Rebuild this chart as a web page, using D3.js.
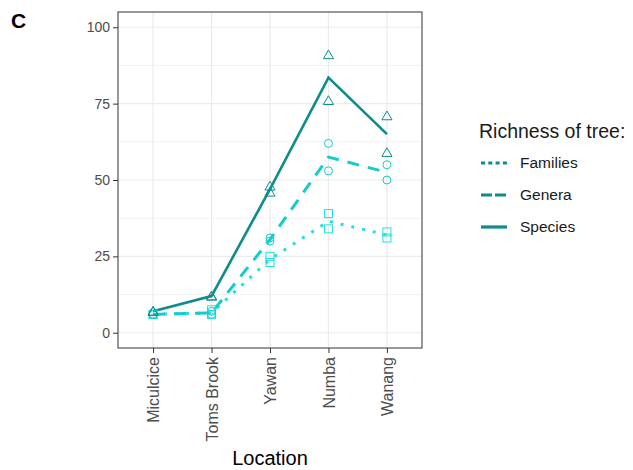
<!DOCTYPE html>
<html lang="en">
<head>
  <meta charset="UTF-8" />
  <title>Richness of tree</title>
  <style>
    body { margin: 0; background: #fff; }
    text { font-family: "Liberation Sans", Arial, sans-serif; }
    .tick text { fill: #4d4d4d; }
  </style>
  <script src="https://d3js.org/d3.v7.min.js"></script>
</head>
<body>
  <div id="chart"></div>
  <script>
    const locations = ["Miculcice", "Toms Brook", "Yawan", "Numba", "Wanang"];
    const seriesNames = ["Families", "Genera", "Species"];
    // mean lines
    const familiesMean = [6, 6.5, 24, 36.5, 32];
    const generaMean = [6, 6.5, 30.5, 57.5, 52.5];
    const speciesMean = [7, 12, 47, 83.5, 65];
    // individual plots (two per location)
    const familiesPts = [[6, 6], [6, 7.5], [23, 25], [34, 39], [31, 33]];
    const generaPts = [[6, 6], [6, 7], [30, 31], [53, 62], [50, 55]];
    const speciesPts = [[7, 7], [12, 12], [46, 48], [76, 91], [59, 71]];
    const yTicks = [0, 25, 50, 75, 100];

    const W = 633, H = 470;
    const panel = { left: 118, right: 422, top: 12, bottom: 348 };

    const svg = d3.select("#chart").append("svg")
      .attr("width", W).attr("height", H);

    const x = d3.scalePoint().domain(locations)
      .range([panel.left, panel.right]).padding(0.6);
    const y = d3.scaleLinear().domain([-5, 105]).range([panel.bottom, panel.top]);

    const colors = { Families: "#22e0e0", Genera: "#14cccc", Species: "#0e8c8c" };

    // panel + grid
    svg.append("rect")
      .attr("x", panel.left).attr("y", panel.top)
      .attr("width", panel.right - panel.left).attr("height", panel.bottom - panel.top)
      .attr("fill", "#fff");

    const minor = [12.5, 37.5, 62.5, 87.5];
    svg.selectAll(".minor").data(minor).enter().append("line")
      .attr("x1", panel.left).attr("x2", panel.right)
      .attr("y1", d => y(d)).attr("y2", d => y(d))
      .attr("stroke", "#f2f2f2").attr("stroke-width", 1);
    svg.selectAll(".hgrid").data(yTicks).enter().append("line")
      .attr("x1", panel.left).attr("x2", panel.right)
      .attr("y1", d => y(d)).attr("y2", d => y(d))
      .attr("stroke", "#ebebeb").attr("stroke-width", 1.2);
    svg.selectAll(".vgrid").data(locations).enter().append("line")
      .attr("y1", panel.top).attr("y2", panel.bottom)
      .attr("x1", d => x(d)).attr("x2", d => x(d))
      .attr("stroke", "#ebebeb").attr("stroke-width", 1.2);

    // lines
    const line = d3.line().x((d, i) => x(locations[i])).y(d => y(d));
    const lineDefs = [
      { name: "Families", data: familiesMean, dash: "3,8", width: 3 },
      { name: "Genera", data: generaMean, dash: "12,9", width: 3 },
      { name: "Species", data: speciesMean, dash: null, width: 2.6 }
    ];
    lineDefs.forEach(l => {
      svg.append("path")
        .attr("d", line(l.data))
        .attr("fill", "none")
        .attr("stroke", colors[l.name])
        .attr("stroke-width", l.width)
        .attr("stroke-dasharray", l.dash);
    });

    // points
    function flat(pts) {
      const out = [];
      pts.forEach((p, i) => p.forEach(v => out.push({ loc: locations[i], v })));
      return out;
    }
    svg.selectAll(".sq").data(flat(familiesPts)).enter().append("rect")
      .attr("x", d => x(d.loc) - 4).attr("y", d => y(d.v) - 4)
      .attr("width", 8).attr("height", 8)
      .attr("fill", "none").attr("stroke", colors.Families).attr("stroke-width", 1);
    svg.selectAll(".ci").data(flat(generaPts)).enter().append("circle")
      .attr("cx", d => x(d.loc)).attr("cy", d => y(d.v)).attr("r", 4)
      .attr("fill", "none").attr("stroke", colors.Genera).attr("stroke-width", 1);
    const tri = d3.symbol().type(d3.symbolTriangle).size(44);
    svg.selectAll(".tr").data(flat(speciesPts)).enter().append("path")
      .attr("d", tri)
      .attr("transform", d => `translate(${x(d.loc)},${y(d.v) + 1})`)
      .attr("fill", "none").attr("stroke", colors.Species).attr("stroke-width", 1);

    // border
    svg.append("rect")
      .attr("x", panel.left).attr("y", panel.top)
      .attr("width", panel.right - panel.left).attr("height", panel.bottom - panel.top)
      .attr("fill", "none").attr("stroke", "#333").attr("stroke-width", 1);

    // axes
    const yAxis = svg.append("g")
      .attr("transform", `translate(${panel.left},0)`)
      .call(d3.axisLeft(y).tickValues(yTicks).tickSize(5).tickPadding(3));
    yAxis.select(".domain").remove();
    yAxis.selectAll(".tick line").attr("stroke", "#333");
    yAxis.selectAll(".tick text").attr("font-size", 14);

    const xAxis = svg.append("g")
      .attr("transform", `translate(0,${panel.bottom})`)
      .call(d3.axisBottom(x).tickSize(5));
    xAxis.select(".domain").remove();
    xAxis.selectAll(".tick line").attr("stroke", "#333");
    xAxis.selectAll(".tick text")
      .attr("font-size", 16)
      .attr("transform", "rotate(-90)")
      .attr("text-anchor", "end")
      .attr("x", -9).attr("y", 0).attr("dy", "0.35em");

    svg.append("text")
      .attr("x", (panel.left + panel.right) / 2).attr("y", 465)
      .attr("text-anchor", "middle").attr("font-size", 20)
      .text("Location");

    svg.append("text")
      .attr("x", 11).attr("y", 28)
      .attr("font-size", 21).attr("font-weight", "bold")
      .text("C");

    // legend
    const lg = svg.append("g").attr("transform", "translate(479,0)");
    lg.append("text").attr("x", 0).attr("y", 138)
      .attr("font-size", 19.5).attr("fill", "#1a1a1a").text("Richness of tree:");
    const legendDefs = [
      { name: "Families", dash: "4,3.3" },
      { name: "Genera", dash: "11,3" },
      { name: "Species", dash: null }
    ];
    legendDefs.forEach((d, i) => {
      const yy = 163 + i * 32;
      lg.append("line")
        .attr("x1", 2).attr("x2", 28).attr("y1", yy).attr("y2", yy)
        .attr("stroke", colors.Species).attr("stroke-width", 3.2)
        .attr("stroke-dasharray", d.dash);
      lg.append("text").attr("x", 41).attr("y", yy + 5)
        .attr("font-size", 15.5).attr("fill", "#1a1a1a").text(d.name);
    });
  </script>
</body>
</html>
